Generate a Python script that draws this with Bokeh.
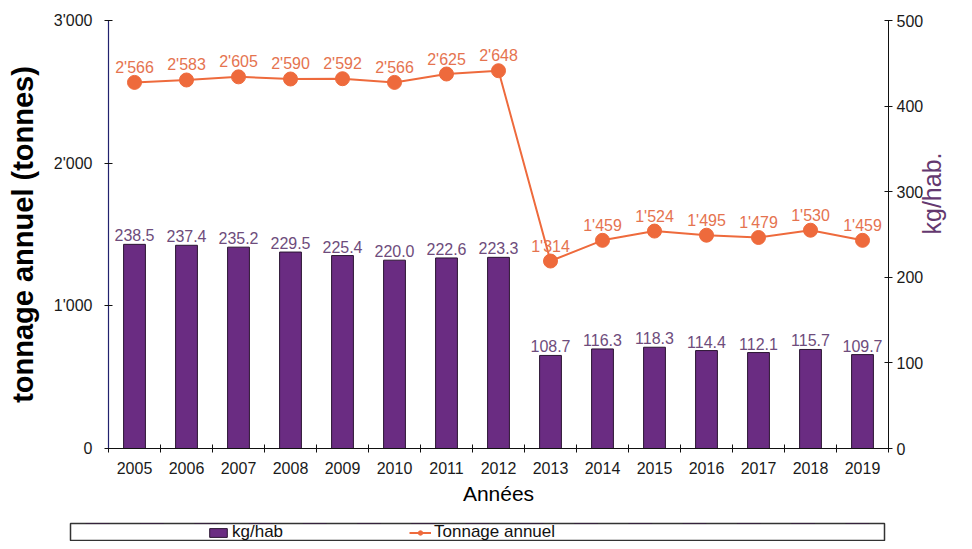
import math
from bokeh.plotting import figure
from bokeh.models import (Range1d, LinearAxis, FixedTicker, Legend, LegendItem,
                          ColumnDataSource)
from bokeh.core.properties import value
from bokeh.embed import file_html
from bokeh.resources import INLINE

# ---------------- data ----------------
years = ["2005", "2006", "2007", "2008", "2009", "2010", "2011", "2012",
         "2013", "2014", "2015", "2016", "2017", "2018", "2019"]
kg_hab = [238.5, 237.4, 235.2, 229.5, 225.4, 220.0, 222.6, 223.3,
          108.7, 116.3, 118.3, 114.4, 112.1, 115.7, 109.7]
tonnage = [2566, 2583, 2605, 2590, 2592, 2566, 2625, 2648,
           1314, 1459, 1524, 1495, 1479, 1530, 1459]
left_ticks = [0, 1000, 2000, 3000]
right_ticks = [0, 100, 200, 300, 400, 500]
legend_labels = ["kg/hab", "Tonnage annuel"]


def fmt_thousands(v):
    return f"{int(v):,}".replace(",", "'")


FONT = "Liberation Sans"
BAR_COLOR = "#6A2C82"
BAR_LINE = "#2b1533"
LINE_COLOR = "#EE6A3C"

n = len(years)
xs = [i + 0.5 for i in range(n)]
src = ColumnDataSource(dict(
    x=xs, kg=kg_hab, t=tonnage,
    kg_lbl=[f"{v:.1f}" for v in kg_hab],
    t_lbl=[fmt_thousands(v) for v in tonnage],
))

p = figure(width=964, height=517, x_range=Range1d(0, n),
           y_range=Range1d(left_ticks[0], left_ticks[-1]),
           output_backend="svg", toolbar_location=None,
           min_border_left=108, min_border_right=76,
           min_border_top=20, min_border_bottom=69)
p.extra_y_ranges = {"right": Range1d(right_ticks[0], right_ticks[-1])}
p.grid.visible = False
p.outline_line_color = None
p.background_fill_color = "white"
p.border_fill_color = "white"

# left axis
ly = p.yaxis[0]
ly.ticker = FixedTicker(ticks=left_ticks)
ly.major_label_overrides = {t: fmt_thousands(t) for t in left_ticks}
ly.axis_line_color = "#22226E"
ly.axis_line_width = 1.2
ly.major_tick_line_color = "#111111"
ly.major_tick_in = 4
ly.major_tick_out = 4
ly.minor_tick_line_color = None
ly.major_label_standoff = 12
ly.major_label_text_font = FONT
ly.major_label_text_font_size = "16px"
ly.major_label_text_color = "#1a1a1a"
ly.axis_label = "tonnage annuel (tonnes)"
ly.axis_label_text_font = FONT
ly.axis_label_text_font_style = "bold"
ly.axis_label_text_font_size = "29px"
ly.axis_label_text_color = "#000000"
ly.axis_label_standoff = 12

# right axis
ry = LinearAxis(y_range_name="right", ticker=FixedTicker(ticks=right_ticks))
ry.axis_line_color = "#111111"
ry.major_tick_line_color = "#111111"
ry.major_tick_in = 4
ry.major_tick_out = 4
ry.minor_tick_line_color = None
ry.major_label_standoff = 4
ry.major_label_text_font = FONT
ry.major_label_text_font_size = "16px"
ry.major_label_text_color = "#1a1a1a"
ry.axis_label = "kg/hab."
ry.axis_label_text_font = FONT
ry.axis_label_text_font_style = "normal"
ry.axis_label_text_font_size = "25px"
ry.axis_label_text_color = "#64386F"
ry.axis_label_standoff = 6
try:
    ry.axis_label_orientation = math.pi / 2
except Exception:
    pass
p.add_layout(ry, "right")

# bottom axis: year labels at centres, minor ticks at category boundaries
bx = p.xaxis[0]
bx.ticker = FixedTicker(ticks=xs, minor_ticks=list(range(n + 1)))
bx.major_label_overrides = {x: y for x, y in zip(xs, years)}
bx.axis_line_color = "#111111"
bx.major_tick_line_color = None
bx.major_tick_in = 0
bx.major_tick_out = 0
bx.minor_tick_line_color = "#111111"
bx.minor_tick_in = 4
bx.minor_tick_out = 4
bx.major_label_standoff = 9
bx.major_label_text_font = FONT
bx.major_label_text_font_size = "16px"
bx.major_label_text_color = "#1a1a1a"
bx.axis_label = "Années"
bx.axis_label_text_font = FONT
bx.axis_label_text_font_style = "normal"
bx.axis_label_text_font_size = "21px"
bx.axis_label_text_color = "#000000"
bx.axis_label_standoff = 5

# bars (kg/hab, right axis)
bars = p.vbar(x="x", top="kg", width=0.42, source=src, y_range_name="right",
              fill_color=BAR_COLOR, line_color=BAR_LINE, line_width=1)
p.text(x="x", y="kg", text="kg_lbl", source=src, y_range_name="right",
       y_offset=-9, text_align="center", text_baseline="alphabetic",
       text_font=value(FONT), text_font_size="16px", text_color="#6E4C7C")

# line (tonnage, left axis)
line = p.line(x="x", y="t", source=src, line_color=LINE_COLOR, line_width=2)
pts = p.scatter(x="x", y="t", source=src, size=14, marker="circle",
                fill_color=LINE_COLOR, line_color=LINE_COLOR)
p.text(x="x", y="t", text="t_lbl", source=src,
       y_offset=-15, text_align="center", text_baseline="alphabetic",
       text_font=value(FONT), text_font_size="16px", text_color="#E5734F")

# ---- legend strip (its frame outline acts as the legend box) ----
# its y range lies below all data, so the proxy renderers draw nothing visible
lg = figure(width=964, height=24, x_range=Range1d(0, n), y_range=Range1d(-2, -1),
            output_backend="svg", toolbar_location=None,
            x_axis_location=None, y_axis_location=None,
            min_border_left=70, min_border_right=80,
            min_border_top=6, min_border_bottom=0)
lg.grid.visible = False
lg.outline_line_color = "#333333"
lg.outline_line_width = 1.5
lg.background_fill_color = "white"
lg.border_fill_color = "white"
bar_proxy = lg.vbar(x="x", top="kg", width=0.42, source=src,
                    fill_color=BAR_COLOR, line_color=BAR_LINE, line_width=1)
line_proxy = lg.line(x="x", y="t", source=src, line_color=LINE_COLOR, line_width=2)
pts_proxy = lg.scatter(x="x", y="t", source=src, size=14, marker="circle",
                       fill_color=LINE_COLOR, line_color=LINE_COLOR)
legend = Legend(items=[LegendItem(label=legend_labels[0], renderers=[bar_proxy]),
                       LegendItem(label=legend_labels[1], renderers=[line_proxy, pts_proxy])],
                orientation="horizontal", location=(137, -1),
                padding=0, margin=0, spacing=126,
                glyph_width=22, glyph_height=11, label_standoff=3,
                label_height=19,
                label_text_font=FONT, label_text_font_size="17px",
                label_text_color="#111111",
                border_line_color=None,
                background_fill_alpha=0.0,
                item_background_fill_alpha=0.0)
lg.add_layout(legend)

open("out.html", "w").write(file_html([p, lg], INLINE))
